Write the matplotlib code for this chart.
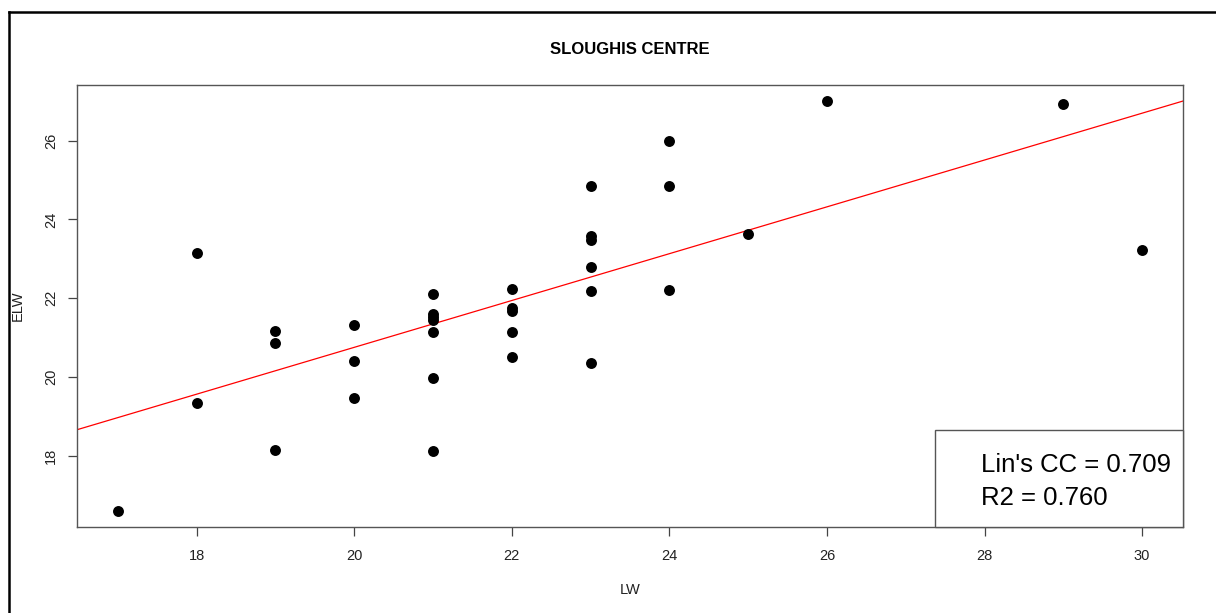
import matplotlib.pyplot as plt
from matplotlib.lines import Line2D
from matplotlib.patches import Rectangle
import numpy as np

plt.rcParams['font.family'] = ['Liberation Sans', 'DejaVu Sans']

# LW vs ELW measurements
lw = [17, 18, 18, 19, 19, 19, 20, 20, 20,
      21, 21, 21, 21, 21, 21, 21,
      22, 22, 22, 22, 22,
      23, 23, 23, 23, 23, 23,
      24, 24, 24, 25, 26, 29, 30]
elw = [16.6, 23.15, 19.33, 21.17, 20.87, 18.14, 21.33, 20.4, 19.47,
       22.1, 21.6, 21.52, 21.45, 21.14, 19.98, 18.12,
       22.22, 21.76, 21.68, 21.14, 20.5,
       24.84, 23.58, 23.47, 22.8, 22.19, 20.36,
       26.0, 24.85, 22.2, 23.64, 27.0, 26.93, 23.23]

# fitted line (intercept, slope) and agreement stats
fit_intercept = 8.85
fit_slope = 0.595
lins_cc = 0.709
r2 = 0.760

x_ticks = [18, 20, 22, 24, 26, 28, 30]
y_ticks = [18, 20, 22, 24, 26]

fig = plt.figure(figsize=(12.16, 6.13), dpi=100)
ax = fig.add_axes([0.0633, 0.1403, 0.9096, 0.7210])

ax.scatter(lw, elw, s=62, color='black', linewidths=0, zorder=3)

# R-style 4% axis padding
def padded(v):
    lo, hi = min(v), max(v)
    d = (hi - lo) * 0.04
    return lo - d, hi + d

ax.set_xlim(*padded(lw))
ax.set_ylim(*padded(elw))

xs = np.array(ax.get_xlim())
ax.plot(xs, fit_intercept + fit_slope * xs, color='red', lw=0.9, zorder=2)

ax.set_xticks(x_ticks)
ax.set_yticks(y_ticks)
ax.tick_params(axis='both', length=6.5, width=0.9, color='#444444',
               labelsize=10.5, labelcolor='#222222')
ax.tick_params(axis='x', pad=9)
ax.tick_params(axis='y', pad=7)
plt.setp(ax.get_yticklabels(), rotation=90, va='center')
for s in ax.spines.values():
    s.set_color('#555555')
    s.set_linewidth(1.0)

# legend box in bottom-right corner
box_left = 0.7758
ax.add_patch(Rectangle((box_left, 0), 1 - box_left, 0.2195,
                       transform=ax.transAxes, facecolor='white',
                       edgecolor='#555555', lw=1.0, zorder=4, clip_on=False))
ax.text(0.8174, 0.1244, "Lin's CC = %.3f" % lins_cc, transform=ax.transAxes,
        fontsize=18.5, va='baseline', ha='left', zorder=5)
ax.text(0.8174, 0.0498, "R2 = %.3f" % r2, transform=ax.transAxes,
        fontsize=18.5, va='baseline', ha='left', zorder=5)

fig.text(630 / 1216, 1 - 49 / 613, 'SLOUGHIS CENTRE', ha='center',
         va='center', fontsize=12, fontweight='bold')
fig.text(630 / 1216, 1 - 590 / 613, 'LW', ha='center', va='center',
         fontsize=10.5, color='#222222')
fig.text(18 / 1216, 1 - 306 / 613, 'ELW', ha='center', va='center',
         rotation=90, fontsize=10.5, color='#222222')

# outer frame (left and top edges)
fig.add_artist(Line2D([8.5 / 1216, 8.5 / 1216], [0, 1 - 11.5 / 613],
                      transform=fig.transFigure, color='black', lw=1.8))
fig.add_artist(Line2D([8.5 / 1216, 1], [1 - 11.5 / 613, 1 - 11.5 / 613],
                      transform=fig.transFigure, color='black', lw=1.8))

fig.savefig('out.png', dpi=100)
